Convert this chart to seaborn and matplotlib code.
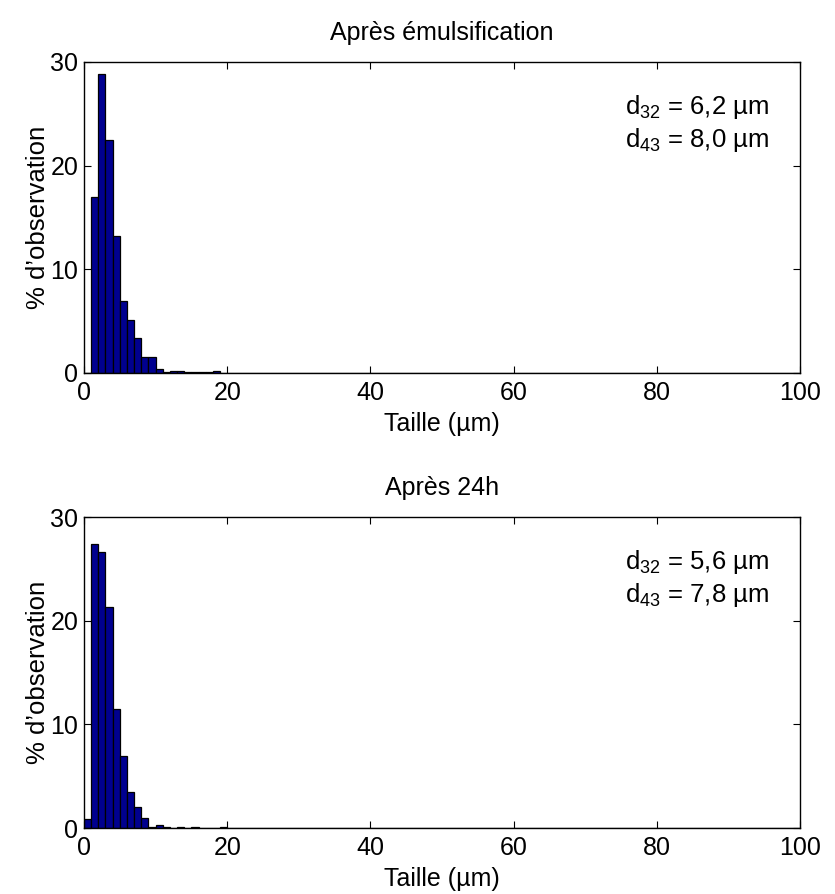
import matplotlib
matplotlib.use("Agg")
import matplotlib.pyplot as plt
import numpy as np
import pandas as pd
import seaborn as sns

centres = np.arange(0.5, 20.5, 1.0)
pct_emuls = [0.0, 17.0, 28.8, 22.5, 13.2, 6.9, 5.1, 3.4, 1.5, 1.5,
             0.4, 0.05, 0.2, 0.2, 0.1, 0.1, 0.05, 0.05, 0.15, 0.0]
pct_24h = [0.9, 27.4, 26.6, 21.3, 11.5, 6.9, 3.45, 2.0, 0.94, 0.13,
           0.3, 0.13, 0.05, 0.1, 0.05, 0.1, 0.05, 0.05, 0.05, 0.1]
titles = ["Après émulsification", "Après 24h"]
labels = [("6,2", "8,0"), ("5,6", "7,8")]

sns.set_style("white")
plt.rcParams["font.family"] = ["Liberation Sans", "DejaVu Sans"]
plt.rcParams["text.color"] = "black"
plt.rcParams["axes.labelcolor"] = "black"
plt.rcParams["xtick.color"] = "black"
plt.rcParams["ytick.color"] = "black"
plt.rcParams["mathtext.fontset"] = "custom"
plt.rcParams["mathtext.rm"] = "Liberation Sans"
plt.rcParams["mathtext.it"] = "Liberation Sans:italic"

fig = plt.figure(figsize=(8.35, 8.94), dpi=100)
ax_top = fig.add_axes([0.1006, 0.5828, 0.8575, 0.3479])
ax_bot = fig.add_axes([0.1006, 0.0738, 0.8575, 0.3479])

for ax, pct, title, (d32, d43) in zip([ax_top, ax_bot], [pct_emuls, pct_24h], titles, labels):
    df = pd.DataFrame({"taille": centres, "pct": pct})
    sns.histplot(data=df, x="taille", weights="pct", binwidth=1, binrange=(0, 100), ax=ax,
                 color="#00008f", edgecolor="black", linewidth=0.9, alpha=1)
    ax.set_xlim(0, 100)
    ax.set_ylim(0, 30)
    ax.set_xticks([0, 20, 40, 60, 80, 100])
    ax.set_yticks([0, 10, 20, 30])
    ax.tick_params(direction="in", length=5, labelsize=18, top=True, right=True,
                   bottom=True, left=True, pad=4)
    ax.tick_params(axis="x", pad=6)
    for s in ax.spines.values():
        s.set_color("black")
        s.set_linewidth(1.0)
    ax.set_xlabel("Taille (µm)", fontsize=18, labelpad=5)
    ax.set_ylabel("% d’observation", fontsize=18.5, labelpad=0)
    ax.set_title(title, fontsize=18, pad=16)
    ax.text(0.756, 0.90, f"d$_{{\\mathregular{{32}}}}$ = {d32} µm\nd$_{{\\mathregular{{43}}}}$ = {d43} µm",
            transform=ax.transAxes, fontsize=18.5, ha="left", va="top", linespacing=1.25)

fig.savefig("out.png", dpi=100)
